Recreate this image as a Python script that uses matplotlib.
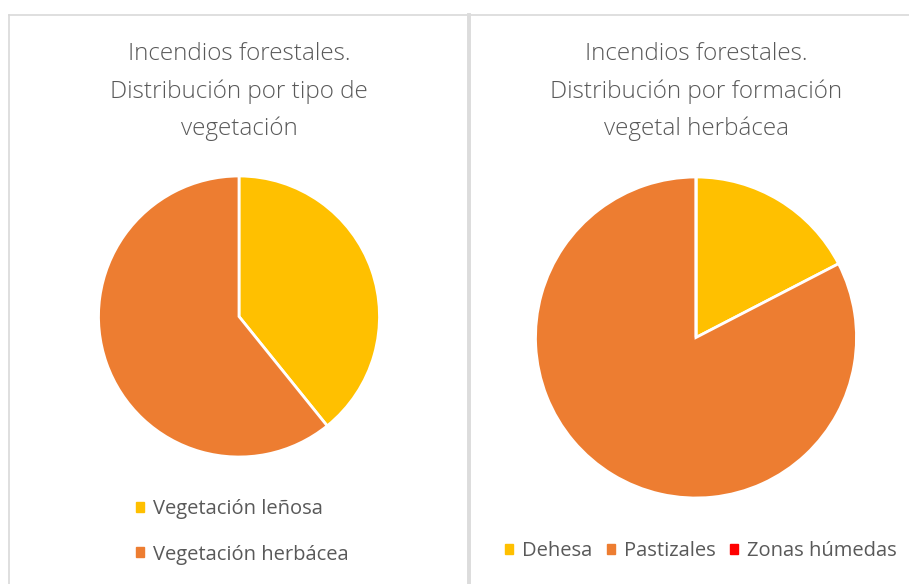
import matplotlib
matplotlib.use("Agg")
import matplotlib.pyplot as plt
from matplotlib.patches import Patch
from matplotlib.lines import Line2D

# left chart: tipo de vegetacion
veg_labels = ["Vegetación leñosa", "Vegetación herbácea"]
veg_values = [39.2, 60.8]
veg_colors = ["#FFC000", "#ED7D31"]

# right chart: formacion vegetal herbacea
herb_labels = ["Dehesa", "Pastizales", "Zonas húmedas"]
herb_values = [17.4, 82.6, 0.0]
herb_colors = ["#FFC000", "#ED7D31", "#FF0000"]

title_left = "Incendios forestales.\nDistribución por tipo de\nvegetación"
title_right = "Incendios forestales.\nDistribución por formación\nvegetal herbácea"

W, H = 909, 584
plt.rcParams["font.family"] = ["Open Sans", "DejaVu Sans"]
txt_color = "#595959"

fig = plt.figure(figsize=(W / 100, H / 100), dpi=100)

def fx(x): return x / W
def fy(y): return 1 - y / H

def pie_axes(cx, cy, r):
    return fig.add_axes([fx(cx - r), fy(cy + r), 2 * r / W, 2 * r / H])

# panel borders
border = "#D9D9D9"
fig.add_artist(Line2D([fx(8.5), 1], [fy(14.5), fy(14.5)], color=border, lw=1.2))
fig.add_artist(Line2D([fx(8.5), fx(8.5)], [0, fy(14.5)], color=border, lw=1.2))
fig.add_artist(Line2D([fx(469), fx(469)], [0, fy(14.5)], color="#DCDCDC", lw=2.8))

# left pie
ax1 = pie_axes(239, 316.5, 140.5)
ax1.pie(veg_values, colors=veg_colors, startangle=90, counterclock=False,
        wedgeprops=dict(edgecolor="white", linewidth=2.0))
ax1.set_xlim(-1, 1)
ax1.set_ylim(-1, 1)

# right pie
ax2 = pie_axes(696, 337.5, 160.5)
ax2.pie(herb_values, colors=herb_colors, startangle=90, counterclock=False,
        wedgeprops=dict(edgecolor="white", linewidth=2.0))
ax2.set_xlim(-1, 1)
ax2.set_ylim(-1, 1)

# titles
for cx, t in [(239, title_left), (696, title_right)]:
    fig.text(fx(cx), fy(91.5), t, ha="center", va="center", fontsize=17.5,
             color=txt_color, fontweight="light", linespacing=1.7)

# legends
h1 = [Patch(color=c, label=l) for c, l in zip(veg_colors, veg_labels)]
fig.legend(handles=h1, loc="center", bbox_to_anchor=(fx(242), fy(532)),
           frameon=False, fontsize=14.5, labelcolor=txt_color,
           handlelength=0.4, handleheight=0.4, handletextpad=0.45,
           labelspacing=1.25)

h2 = [Patch(color=c, label=l) for c, l in zip(herb_colors, herb_labels)]
fig.legend(handles=h2, loc="center", bbox_to_anchor=(fx(701), fy(551)),
           ncol=3, frameon=False, fontsize=14.5, labelcolor=txt_color,
           handlelength=0.4, handleheight=0.4, handletextpad=0.45,
           columnspacing=0.7)

fig.savefig("out.png", dpi=100, facecolor="white")
